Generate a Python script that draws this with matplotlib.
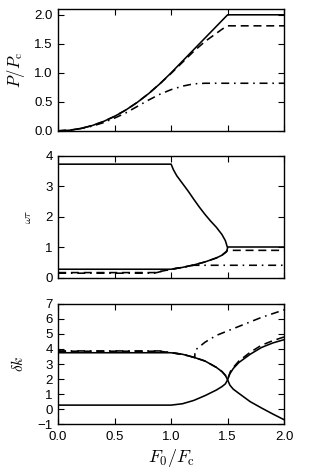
import matplotlib
matplotlib.use("Agg")
import matplotlib.pyplot as plt

plt.rcParams["font.family"] = ["Liberation Sans", "DejaVu Sans"]
plt.rcParams["mathtext.fontset"] = "cm"
plt.rcParams["font.size"] = 9.5

############################################################
# Data
############################################################

# top panel: P / Pc
p_x = [0, 0.1, 0.2, 0.3, 0.4, 0.5, 0.6, 0.7, 0.8, 0.9, 1.0, 1.5, 2.0]
p_solid = [0, 0.01, 0.04, 0.09, 0.16, 0.25, 0.36, 0.49, 0.64, 0.81, 1.0, 2.0, 2.0]

p_dash_x = [0, 0.1, 0.2, 0.3, 0.4, 0.5, 0.6, 0.7, 0.8, 0.9, 1.0,
            1.1, 1.2, 1.3, 1.4, 1.45, 1.5, 2.0]
p_dash = [0, 0.01, 0.04, 0.09, 0.16, 0.25, 0.36, 0.49, 0.64, 0.81, 0.99,
          1.18, 1.37, 1.54, 1.68, 1.75, 1.81, 1.81]

p_dd_x = [0, 0.1, 0.2, 0.3, 0.4, 0.5, 0.6, 0.7, 0.8, 0.9, 1.0,
          1.1, 1.2, 1.3, 2.0]
p_dd = [0, 0.01, 0.04, 0.08, 0.14, 0.22, 0.31, 0.42, 0.53, 0.63, 0.71,
        0.77, 0.81, 0.82, 0.82]

# middle panel: omega tau
w_up_x = [0, 1.0, 1.02, 1.05, 1.1, 1.15, 1.2, 1.25, 1.3, 1.35, 1.4, 1.45, 1.48, 1.5]
w_up = [3.73, 3.73, 3.55, 3.35, 3.1, 2.85, 2.58, 2.32, 2.08, 1.86, 1.66, 1.42, 1.22, 0.98]
w_low_x = [1.49, 1.45, 1.4, 1.3, 1.2, 1.1, 1.0, 0]
w_low = [0.85, 0.74, 0.65, 0.52, 0.42, 0.34, 0.28, 0.28]
w_flat_x = [1.5, 2.0]
w_flat = [1.0, 1.0]

w_dash_x = [0, 0.85, 0.95, 1.0, 1.1, 1.2, 1.3, 1.4, 1.45, 1.5, 2.0]
w_dash = [0.17, 0.17, 0.24, 0.28, 0.34, 0.42, 0.52, 0.65, 0.74, 0.9, 0.9]

w_dd_x = [0, 0.85, 0.95, 1.0, 1.1, 1.2, 2.0]
w_dd = [0.15, 0.15, 0.24, 0.28, 0.34, 0.41, 0.41]

# bottom panel: delta k
k_left_x = [0, 1.0, 1.1, 1.2, 1.3, 1.4, 1.45, 1.48, 1.5,
            1.48, 1.45, 1.4, 1.3, 1.2, 1.1, 1.0, 0]
k_left = [3.75, 3.75, 3.65, 3.45, 3.2, 2.78, 2.5, 2.25, 1.95,
          1.68, 1.5, 1.27, 0.9, 0.58, 0.36, 0.27, 0.27]
k_right_x = [2.0, 1.9, 1.8, 1.7, 1.6, 1.55, 1.52, 1.5,
             1.52, 1.55, 1.6, 1.7, 1.8, 1.9, 2.0]
k_right = [4.62, 4.4, 4.1, 3.65, 3.1, 2.7, 2.35, 1.95,
           1.6, 1.33, 1.05, 0.5, 0.08, -0.32, -0.7]

k_dash_x = [0, 0.9, 0.95, 1.0, 1.1, 1.2, 1.3, 1.4, 1.45, 1.48, 1.5,
            1.53, 1.6, 1.7, 1.8, 1.9, 2.0]
k_dash = [3.85, 3.85, 3.8, 3.75, 3.65, 3.45, 3.2, 2.78, 2.5, 2.25, 2.0,
          2.6, 3.2, 3.78, 4.25, 4.55, 4.8]

k_dd_x = [0, 0.02, 0.9, 1.0, 1.1, 1.21, 1.21, 1.3, 1.4, 1.5, 1.6, 1.7, 1.8, 1.9, 2.0]
k_dd = [3.95, 3.87, 3.87, 3.75, 3.65, 3.42, 3.9, 4.45, 4.9, 5.2, 5.5, 5.8, 6.1, 6.35, 6.6]

############################################################
# Figure
############################################################

fig = plt.figure(figsize=(3.16, 4.74), dpi=100)

ax1 = fig.add_axes([0.184, 0.724, 0.715, 0.257])
ax2 = fig.add_axes([0.184, 0.414, 0.715, 0.257])
ax3 = fig.add_axes([0.184, 0.105, 0.715, 0.254])

LW = 1.15
DASH = (5, 3)
DASHDOT = (5, 3, 1, 3)

ax1.plot(p_x, p_solid, color="black", lw=LW)
ax1.plot(p_dash_x, p_dash, color="black", lw=LW, dashes=DASH)
ax1.plot(p_dd_x, p_dd, color="black", lw=LW, dashes=DASHDOT)
ax1.set_ylim(0, 2.1)
ax1.set_yticks([0, 0.5, 1.0, 1.5, 2.0])
ax1.set_yticklabels(["0.0", "0.5", "1.0", "1.5", "2.0"])
ax1.set_ylabel(r"$P/P_\mathrm{c}$", fontsize=12, labelpad=5)

ax2.plot(w_up_x + w_low_x, w_up + w_low, color="black", lw=LW)
ax2.plot(w_flat_x, w_flat, color="black", lw=LW)
ax2.plot(w_dash_x, w_dash, color="black", lw=LW, dashes=DASH)
ax2.plot(w_dd_x, w_dd, color="black", lw=LW, dashes=DASHDOT)
ax2.set_ylim(0, 4)
ax2.set_yticks([0, 1, 2, 3, 4])
ax2.set_ylabel(r"$\omega\tau$", fontsize=8, labelpad=9)

ax3.plot(k_left_x, k_left, color="black", lw=LW)
ax3.plot(k_right_x, k_right, color="black", lw=LW)
ax3.plot(k_dash_x, k_dash, color="black", lw=LW, dashes=DASH)
ax3.plot(k_dd_x, k_dd, color="black", lw=LW, dashes=DASHDOT)
ax3.set_ylim(-1, 7)
ax3.set_yticks(list(range(-1, 8)))
ax3.set_ylabel(r"$\delta k$", fontsize=11, labelpad=8)
ax3.set_xlabel(r"$F_0/F_\mathrm{c}$", fontsize=13, labelpad=3)

for ax in (ax1, ax2, ax3):
    ax.set_xlim(0, 2.0)
    ax.set_xticks([0, 0.5, 1.0, 1.5, 2.0])
    ax.tick_params(direction="in", top=True, right=True, length=4, width=0.8, pad=4)
    for s in ax.spines.values():
        s.set_linewidth(1.0)

ax1.set_xticklabels([])
ax2.set_xticklabels([])
ax3.set_xticklabels(["0.0", "0.5", "1.0", "1.5", "2.0"])
ax3.tick_params(axis="x", pad=5)

fig.savefig("out.png", dpi=100)
